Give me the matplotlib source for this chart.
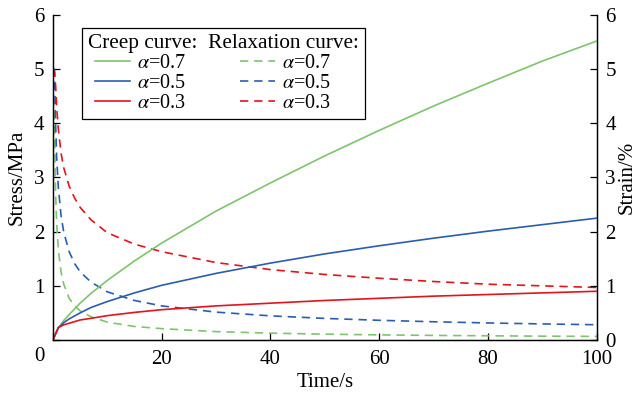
import matplotlib.pyplot as plt
from matplotlib.lines import Line2D
from matplotlib.legend_handler import HandlerLine2D

plt.rcParams['font.family'] = 'Liberation Serif'
plt.rcParams['mathtext.fontset'] = 'stix'
plt.rcParams['font.size'] = 15

# creep curves (strain, %)
t_creep = [0, 1, 2, 3, 5, 7, 10, 15, 20, 30, 40, 50, 60, 70, 80, 90, 100]
creep_07 = [0, 0.22, 0.36, 0.47, 0.68, 0.86, 1.10, 1.46, 1.79, 2.38, 2.90, 3.40, 3.87, 4.32, 4.74, 5.15, 5.52]
creep_05 = [0, 0.225, 0.32, 0.39, 0.50, 0.60, 0.71, 0.87, 1.01, 1.23, 1.42, 1.59, 1.74, 1.88, 2.01, 2.13, 2.25]
creep_03 = [0, 0.23, 0.28, 0.31, 0.37, 0.40, 0.45, 0.51, 0.56, 0.63, 0.68, 0.73, 0.77, 0.81, 0.84, 0.87, 0.90]

# relaxation curves (stress, MPa)
t_relax = [0, 0.3, 0.5, 0.7, 1, 1.5, 2, 3, 4, 5, 7, 10, 15, 20, 30, 40, 50, 60, 70, 80, 90, 100]
relax_07 = [5.0, 3.88, 2.72, 2.15, 1.67, 1.26, 1.03, 0.77, 0.63, 0.54, 0.43, 0.33, 0.25, 0.21,
            0.155, 0.127, 0.108, 0.095, 0.085, 0.078, 0.071, 0.067]
relax_05 = [5.0, 5.0, 3.99, 3.37, 2.82, 2.30, 1.99, 1.63, 1.41, 1.26, 1.07, 0.89, 0.73, 0.63,
            0.515, 0.446, 0.399, 0.364, 0.337, 0.315, 0.297, 0.282]
relax_03 = [5.0, 4.95, 4.70, 4.30, 3.90, 3.45, 3.18, 2.84, 2.62, 2.45, 2.22, 1.98, 1.77, 1.63,
            1.43, 1.30, 1.21, 1.14, 1.08, 1.03, 1.00, 0.97]

labels = [r'$\alpha$=0.7', r'$\alpha$=0.5', r'$\alpha$=0.3']
colors = ['#7ec46c', '#2a5db0', '#e3141c']

fig = plt.figure(figsize=(6.37, 3.94), dpi=100)
ax = fig.add_axes([0.083, 0.137, 0.854, 0.825])
ax2 = ax.twinx()

handles = []
for y, c, l in zip([creep_07, creep_05, creep_03], colors, labels):
    h, = ax2.plot(t_creep, y, color=c, lw=1.2, label=l)
    handles.append(h)
for y, c, l in zip([relax_07, relax_05, relax_03], colors, labels):
    h, = ax.plot(t_relax, y, color=c, lw=1.2, ls=(0, (5, 3.5)), label=l)
    handles.append(h)

for a in (ax, ax2):
    a.set_xlim(0, 100)
    a.set_ylim(0, 6)
    a.spines['top'].set_visible(False)
    a.tick_params(direction='in', length=5, width=0.9, pad=6)
    for s in a.spines.values():
        s.set_linewidth(0.9)
ax.tick_params(axis='x', pad=7)

ax.set_xticks([0, 20, 40, 60, 80, 100])
ax.set_xticklabels(['', '20', '40', '60', '80', '100'])
ax.set_yticks([0, 1, 2, 3, 4, 5, 6])
ax.set_yticklabels(['', '1', '2', '3', '4', '5', '6'])
ax2.set_yticks([0, 1, 2, 3, 4, 5, 6])
ax.text(-0.024, -0.052, '0', transform=ax.transAxes, ha='center', va='center')

ax.set_xlabel('Time/s', labelpad=3)
ax.set_ylabel('Stress/MPa', labelpad=5)
ax2.set_ylabel('Strain/%', labelpad=1.5)

leg = ax2.legend(handles, labels * 2, ncol=2, loc='upper left',
                 bbox_to_anchor=(0.053, 0.96), title='Creep curve:  Relaxation curve:',
                 alignment='left', fancybox=False, edgecolor='black', framealpha=1,
                 fontsize=14.5, handlelength=2.1, handletextpad=0.35, columnspacing=2.3,
                 labelspacing=0.05, borderpad=0.3, borderaxespad=0,
                 handler_map={Line2D: HandlerLine2D(xpad=0.38)})
leg.get_frame().set_linewidth(0.9)
leg.get_title().set_fontsize(15.3)

fig.savefig('out.png', dpi=100)
